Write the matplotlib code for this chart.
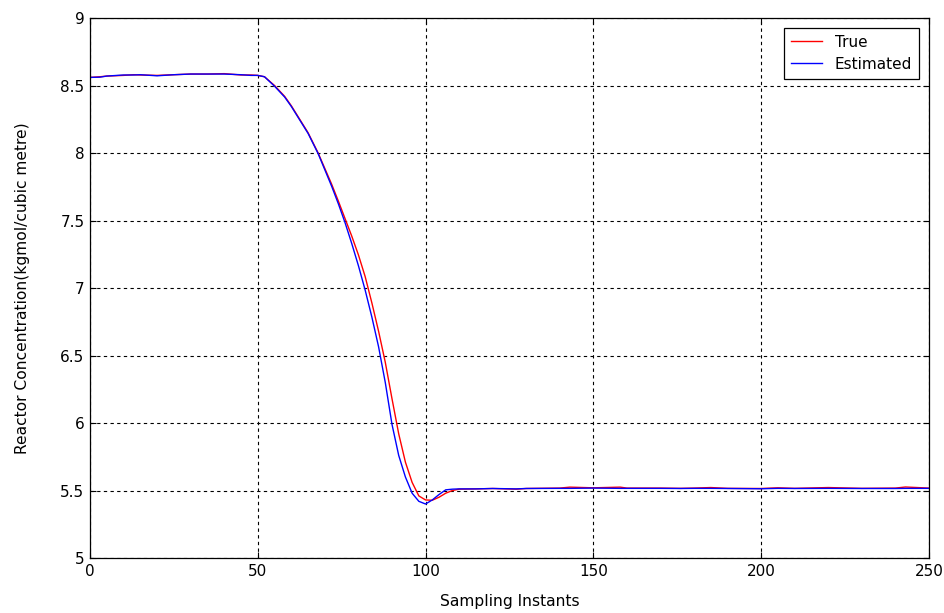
import numpy as np
import matplotlib
matplotlib.use('Agg')
import matplotlib.pyplot as plt
from matplotlib.ticker import FormatStrFormatter

# sample instants and concentrations
t = [0, 3, 5, 10, 13, 15, 20, 25, 30, 35, 40, 45, 48, 50, 52, 55, 58, 60, 62, 65,
     68, 70, 72, 74, 76, 78, 80, 82, 84, 86, 88, 90, 92, 94, 96, 98, 100, 102,
     104, 106, 108, 110, 115, 120, 127, 130, 140, 143, 150, 158, 160, 170, 176,
     180, 185, 190, 200, 205, 210, 220, 230, 240, 243, 250]

c_true = [8.560, 8.565, 8.570, 8.575, 8.580, 8.578, 8.575, 8.580, 8.585, 8.585,
          8.588, 8.578, 8.578, 8.575, 8.565, 8.500, 8.420, 8.350, 8.270, 8.150,
          8.000, 7.885, 7.770, 7.645, 7.515, 7.385, 7.245, 7.085, 6.890, 6.680,
          6.450, 6.180, 5.920, 5.710, 5.560, 5.460, 5.430, 5.428, 5.450, 5.480,
          5.500, 5.510, 5.512, 5.515, 5.510, 5.515, 5.518, 5.525, 5.520, 5.525,
          5.518, 5.518, 5.516, 5.518, 5.522, 5.516, 5.515, 5.520, 5.516, 5.522,
          5.516, 5.518, 5.526, 5.518]

c_est = [8.560, 8.562, 8.570, 8.578, 8.578, 8.580, 8.572, 8.580, 8.585, 8.585,
         8.585, 8.580, 8.575, 8.575, 8.565, 8.495, 8.415, 8.345, 8.265, 8.145,
         7.995, 7.875, 7.755, 7.625, 7.485, 7.330, 7.165, 6.985, 6.785, 6.565,
         6.300, 5.990, 5.760, 5.600, 5.480, 5.420, 5.400, 5.430, 5.470, 5.505,
         5.510, 5.512, 5.512, 5.515, 5.512, 5.515, 5.516, 5.516, 5.518, 5.516,
         5.516, 5.516, 5.515, 5.516, 5.516, 5.515, 5.513, 5.516, 5.515, 5.516,
         5.515, 5.515, 5.516, 5.516]

plt.rcParams['font.family'] = ['DejaVu Sans']

fig = plt.figure(figsize=(9.45, 6.13), dpi=100)
ax = fig.add_axes([0.0952, 0.0897, 0.8878, 0.8809])

ax.plot(t, c_true, color='red', lw=1.0, label='True')
ax.plot(t, c_est, color='blue', lw=1.0, label='Estimated')

ax.set_xlim(0, 250)
ax.set_ylim(5, 9)
ax.set_xticks(np.arange(0, 251, 50))
ax.set_yticks(np.arange(5, 9.01, 0.5))
ax.yaxis.set_major_formatter(FormatStrFormatter('%g'))
ax.tick_params(direction='in', labelsize=11, length=4, top=True, right=True, pad=4)
ax.grid(True, color='black', linestyle=(0, (3, 3)), lw=0.8)
for s in ax.spines.values():
    s.set_linewidth(0.9)

ax.set_xlabel('Sampling Instants', fontsize=11.2)
ax.set_ylabel('Reactor Concentration(kgmol/cubic metre)', fontsize=11.2)
ax.xaxis.set_label_coords(0.5, -0.067)
ax.yaxis.set_label_coords(-0.072, 0.5)

leg = ax.legend(loc='upper right', fontsize=11, fancybox=False, framealpha=1,
                edgecolor='black', borderaxespad=0.65, handlelength=2.0,
                handletextpad=0.85, borderpad=0.45, labelspacing=0.45)
leg.get_frame().set_linewidth(0.9)

fig.savefig('out.png', dpi=100)
